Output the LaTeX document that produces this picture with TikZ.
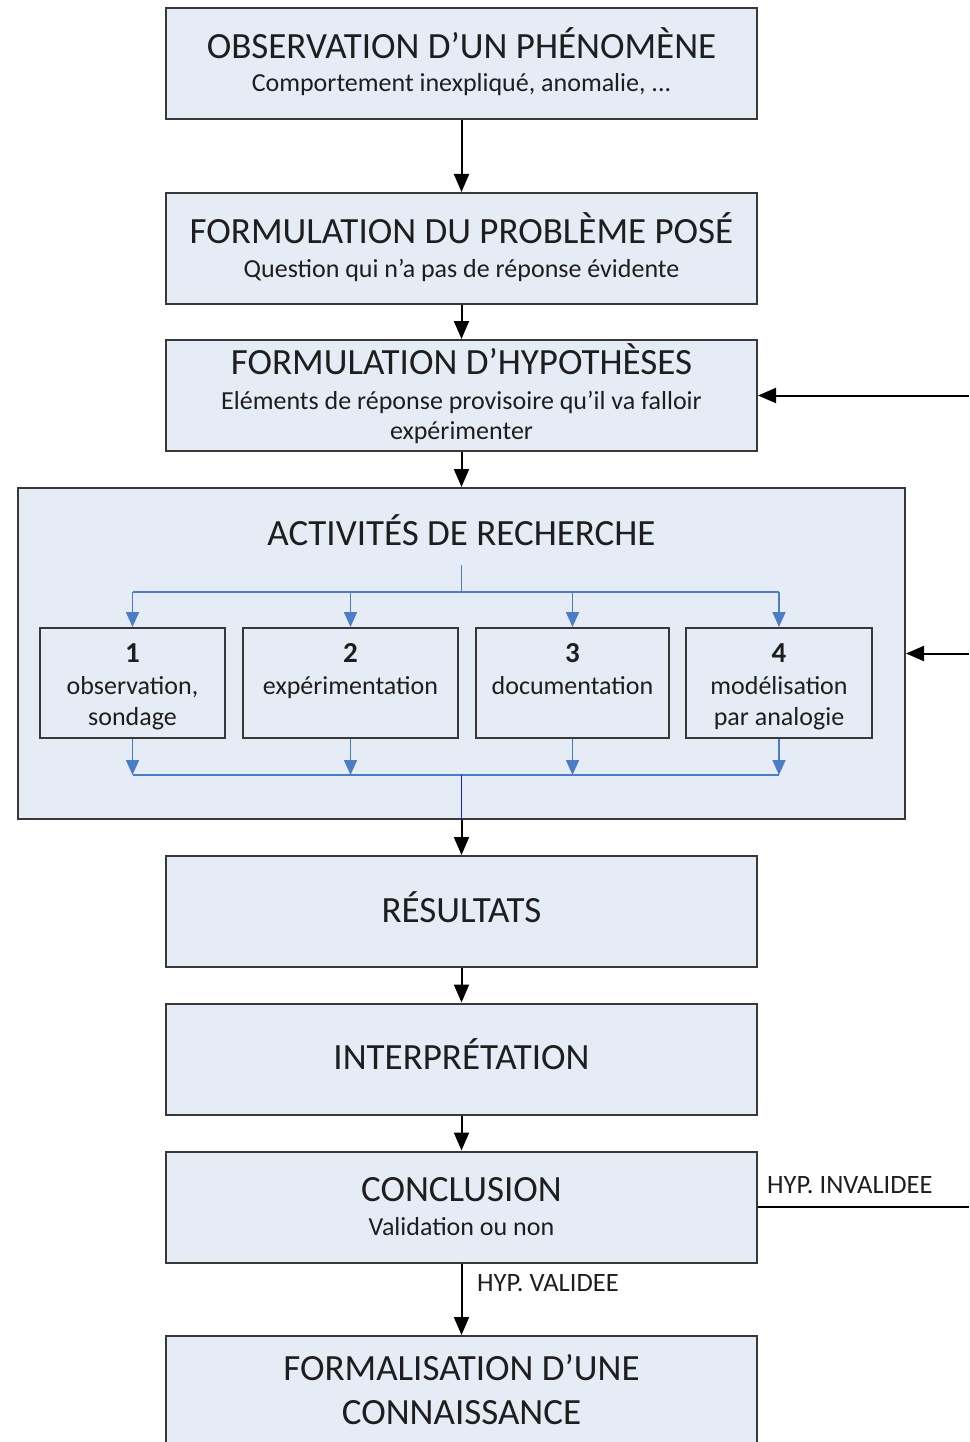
\documentclass[tikz,border=0pt]{standalone}
\usepackage{fontspec}
\usepackage{tikz}
\setmainfont{Carlito}
\usetikzlibrary{arrows.meta}
\usetikzlibrary{positioning}
\definecolor{fond}{HTML}{E6ECF6}
\definecolor{cadre}{HTML}{383838}
\definecolor{encre}{HTML}{1E1E1E}
\definecolor{liaison}{HTML}{4A7DC4}
\definecolor{axe}{HTML}{1A1AF0}
\tikzset{etape/.style = {draw = cadre, fill = fond, line width = 2pt, inner sep = 0, minimum width = 591pt, minimum height = 111pt}}
\tikzset{piste/.style = {draw = cadre, line width = 2pt, inner sep = 0, minimum height = 110pt}}
\tikzset{titre/.style = {anchor = base, inner sep = 0, text = encre, font = \fontsize{37}{40}\selectfont}}
\tikzset{sous/.style = {anchor = base, inner sep = 0, text = encre, font = \fontsize{26}{30}\selectfont}}
\tikzset{chiffre/.style = {anchor = base, inner sep = 0, text = encre, font = \bfseries\fontsize{29}{30}\selectfont}}
\tikzset{etiquette/.style = {anchor = base west, inner sep = 0, text = encre, font = \fontsize{26.5}{28}\selectfont}}
\tikzset{fleche/.style = {line width = 2pt, -{Triangle[length = 18pt, width = 15pt]}}}
\tikzset{trait/.style = {line width = 2pt}}
\tikzset{branche/.style = {draw = liaison, line width = 1.6pt}}
\tikzset{pointe/.style = {branche, -{Triangle[length = 15pt, width = 13pt]}}}

\begin{document}
\begin{tikzpicture}[x = 1pt, y = -1pt]
  \useasboundingbox (0, 0) rectangle (969, 1442);
  \coordinate (bord) at (969, 0);

  \node (obs) [etape] at (461.5, 63.5) {};
  \node (obs t) [titre] at (461.5, 59) {OBSERVATION D’UN PHÉNOMÈNE};
  \node (obs s) [sous] at (461.5, 92) {Comportement inexpliqué, anomalie, ...};

  \node (pb) [etape] at (461.5, 248.5) {};
  \node (pb t) [titre] at (461.5, 243) {FORMULATION DU PROBLÈME POSÉ};
  \node (pb s) [sous] at (461.5, 277) {Question qui n’a pas de réponse évidente};

  \node (hyp) [etape] at (461.5, 395.5) {};
  \node (hyp t) [titre] at (461.5, 374) {FORMULATION D’HYPOTHÈSES};
  \node (hyp s) [sous] at (461.5, 409) {Eléments de réponse provisoire qu’il va falloir};
  \node (hyp s2) [sous] at (461.5, 439) {expérimenter};

  \node (recherche) [etape, minimum width = 887pt, minimum height = 331pt] at (461.5, 653.5) {};
  \node (recherche t) [titre] at (461.5, 545) {ACTIVITÉS DE RECHERCHE};
  \foreach \n/\x/\w/\ligneA/\ligneB in {1/132.5/185/{observation,}/sondage, 2/350.5/215/expérimentation/{}, 3/572.5/193/documentation/{}, 4/779/186/modélisation/par analogie} {
    \node (piste\n) [piste, minimum width = \w pt] at (\x, 683) {};
    \node (num\n) [chiffre] at (\x, 662) {\n};
    \node (ligneA\n) [sous] at (\x, 694) {\ligneA};
    \node (ligneB\n) [sous] at (\x, 725) {\ligneB};
  }

  \node (res) [etape] at (461.5, 911.5) {};
  \node (res t) [titre] at (461.5, 922) {RÉSULTATS};

  \node (interp) [etape] at (461.5, 1059) {};
  \node (interp t) [titre] at (461.5, 1069) {INTERPRÉTATION};

  \node (concl) [etape] at (461.5, 1207) {};
  \node (concl t) [titre] at (461.5, 1201) {CONCLUSION};
  \node (concl s) [sous] at (461.5, 1235) {Validation ou non};

  \node (form) [etape] at (461.5, 1391.5) {};
  \node (form t) [titre] at (461.5, 1380) {FORMALISATION D’UNE};
  \node (form t2) [titre] at (461.5, 1424) {CONNAISSANCE};

  \coordinate (depart) at (461.5, 565);
  \coordinate (haut) at (461.5, 592);
  \coordinate (bas) at (461.5, 775);
  \draw [branche] (depart) -- (haut);
  \draw [branche] (piste1.north |- haut) -- (piste4.north |- haut);
  \draw [branche] (piste1.south |- bas) -- (piste4.south |- bas);
  \foreach \n in {1, ..., 4} {
    \draw [pointe] (piste\n.north |- haut) -- (piste\n.north);
    \draw [pointe] (piste\n.south) -- (piste\n.south |- bas);
  }
  \draw [branche, draw = axe] (bas) -- (recherche.south);

  \draw [fleche] (obs) -- (pb);
  \draw [fleche] (pb) -- (hyp);
  \draw [fleche] (hyp) -- (recherche);
  \draw [fleche] (recherche) -- (res);
  \draw [fleche] (res) -- (interp);
  \draw [fleche] (interp) -- (concl);
  \draw [fleche] (concl) -- (form);

  \draw [fleche] (hyp.east -| bord) -- (hyp.east);
  \draw [fleche] (recherche.east -| bord) -- (recherche.east);
  \draw [trait] (concl.east) -- (concl.east -| bord);
  \node (invalide) [etiquette] at (767, 1193) {HYP. INVALIDEE};
  \node (valide) [etiquette] at (477, 1291) {HYP. VALIDEE};
\end{tikzpicture}
\end{document}
